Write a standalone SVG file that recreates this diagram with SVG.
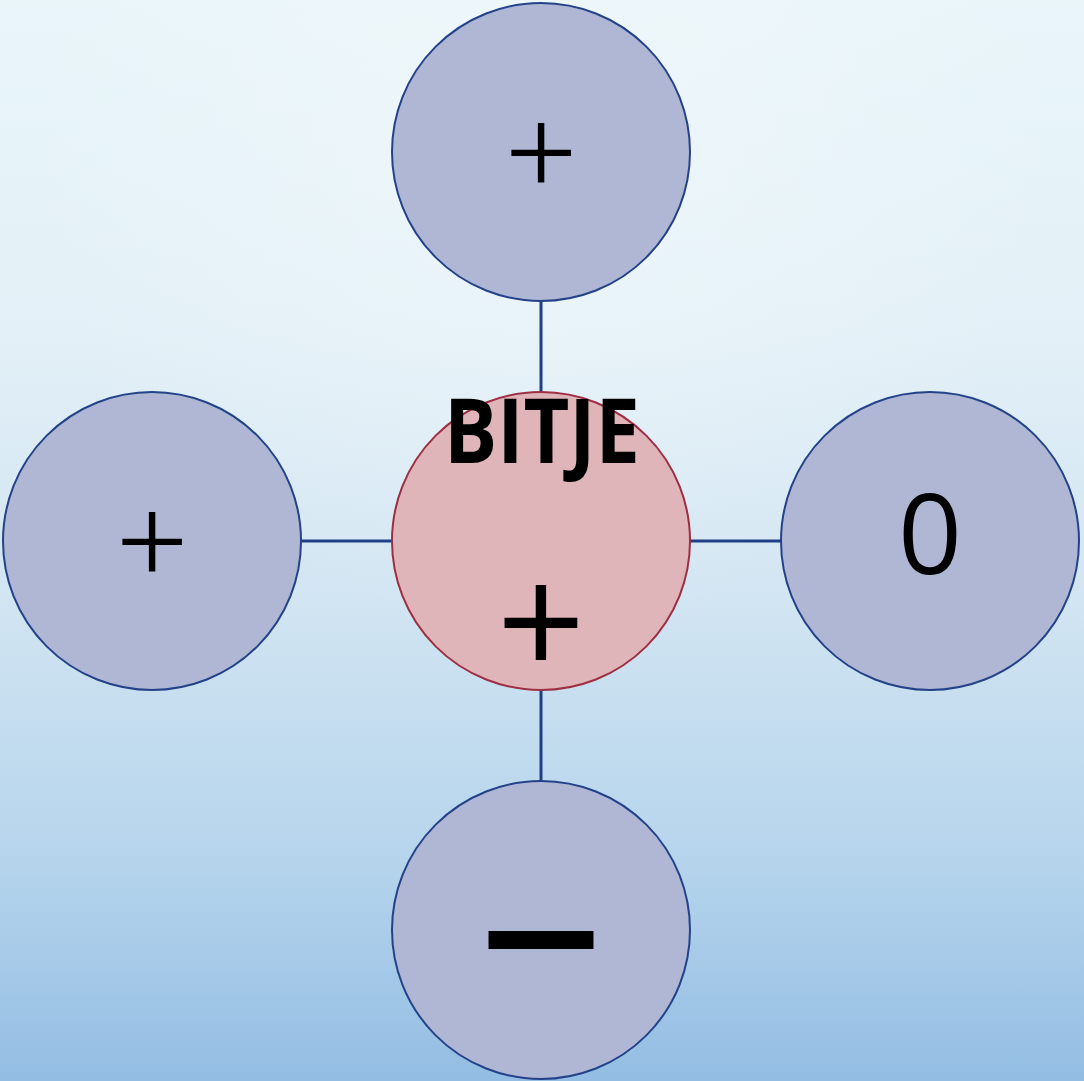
<svg xmlns="http://www.w3.org/2000/svg" width="1084" height="1081" viewBox="0 0 1084 1081">
<defs>
<linearGradient id="bg" x1="0" y1="0" x2="0" y2="1">
<stop offset="0" stop-color="#e9f5f9"/>
<stop offset="0.3" stop-color="#e3f0f7"/>
<stop offset="0.55" stop-color="#d2e5f2"/>
<stop offset="0.8" stop-color="#b5d4ec"/>
<stop offset="1" stop-color="#93bde3"/>
</linearGradient>
<radialGradient id="glow" cx="541" cy="120" r="520" gradientUnits="userSpaceOnUse">
<stop offset="0" stop-color="#f2f9fc" stop-opacity="0.6"/>
<stop offset="1" stop-color="#f2f9fc" stop-opacity="0"/>
</radialGradient>
</defs>
<style>
.node{fill:#afb7d5;stroke:#23428a;stroke-width:2}
.core{fill:#dfb5b9;stroke:#9e2e42;stroke-width:2}
.edge{stroke:#1f3f86;stroke-width:3;fill:none}
.lbl{font-family:"Open Sans","Noto Sans",sans-serif;fill:#000;text-anchor:middle}
.thin{font-family:"Liberation Serif",serif;fill:#000;text-anchor:middle}
</style>
<rect width="1084" height="1081" fill="url(#bg)"/>
<rect width="1084" height="1081" fill="url(#glow)"/>
<g id="connectors">
<line class="edge" x1="541" y1="301" x2="541" y2="392"/>
<line class="edge" x1="541" y1="690" x2="541" y2="781"/>
<line class="edge" x1="301" y1="541" x2="392" y2="541"/>
<line class="edge" x1="690" y1="541" x2="781" y2="541"/>
</g>
<g id="node-top">
<circle class="node" cx="541" cy="152" r="149"/>
<text class="thin" x="541" y="195" font-size="128">+</text>
</g>
<g id="node-left">
<circle class="node" cx="152" cy="541" r="149"/>
<text class="thin" x="152" y="584" font-size="128">+</text>
</g>
<g id="node-right">
<circle class="node" cx="930" cy="541" r="149"/>
<text class="lbl" x="930" y="574" font-size="112">0</text>
</g>
<g id="node-bottom">
<circle class="node" cx="541" cy="930" r="149"/>
<text class="lbl" x="541" y="1007" font-size="250">–</text>
</g>
<g id="node-center">
<circle class="core" cx="541" cy="541" r="149"/>
<text class="lbl" x="542" y="463" font-size="90" font-weight="bold" textLength="196" lengthAdjust="spacingAndGlyphs">BITJE</text>
<text class="lbl" x="541" y="678" font-size="155">+</text>
</g>
</svg>
